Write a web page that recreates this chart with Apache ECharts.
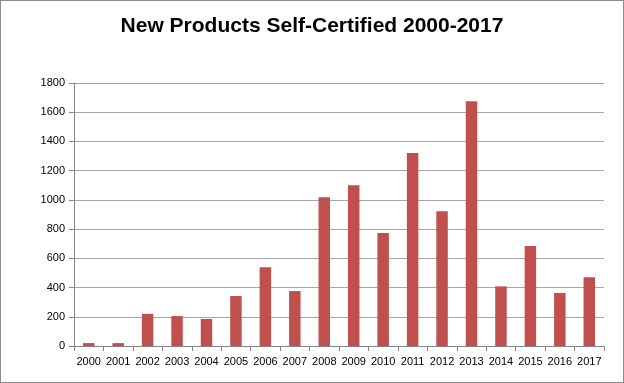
<!DOCTYPE html>
<html><head><meta charset="utf-8">
<script src="https://cdn.jsdelivr.net/npm/echarts@6/dist/echarts.min.js"></script>
<style>
html,body{margin:0;padding:0;background:#fff;}
#c{width:622px;height:381px;border:1px solid #8c8c8c;}
</style></head>
<body><div id="c"></div>
<script>
const categories = ['2000','2001','2002','2003','2004','2005','2006','2007','2008','2009','2010','2011','2012','2013','2014','2015','2016','2017'];
const values = [20,20,220,205,185,342,539,376,1018,1100,773,1321,922,1675,408,684,363,470];
const yTicks = {min:0, max:1800, interval:200};

const chart = echarts.init(document.getElementById('c'), null, {renderer:'canvas'});
chart.setOption({
  animation:false,
  title:{text:'New Products Self-Certified 2000-2017', left:'center', top:10,
    textStyle:{fontFamily:'Liberation Sans Narrow, Liberation Sans', fontWeight:'bold', fontSize:21, color:'#000'}},
  grid:{left:73, right:19, top:82, bottom:36},
  xAxis:{type:'category', data:categories,
    axisLine:{lineStyle:{color:'#868686'}},
    axisTick:{show:true, alignWithLabel:false, length:5, lineStyle:{color:'#868686'}},
    axisLabel:{color:'#000', fontFamily:'Liberation Sans', fontSize:11, margin:10, interval:0}},
  yAxis:{type:'value', min:yTicks.min, max:yTicks.max, interval:yTicks.interval,
    axisLine:{show:true, lineStyle:{color:'#868686'}},
    axisTick:{show:true, length:5, lineStyle:{color:'#868686'}},
    axisLabel:{color:'#000', fontFamily:'Liberation Sans', fontSize:11, margin:9, formatter:v=>String(v)},
    splitLine:{lineStyle:{color:'#a6a6a6'}}},
  series:[{type:'bar', data:values, barWidth:'39%',
    itemStyle:{color:'#C0504D'}}]
});
</script></body></html>
